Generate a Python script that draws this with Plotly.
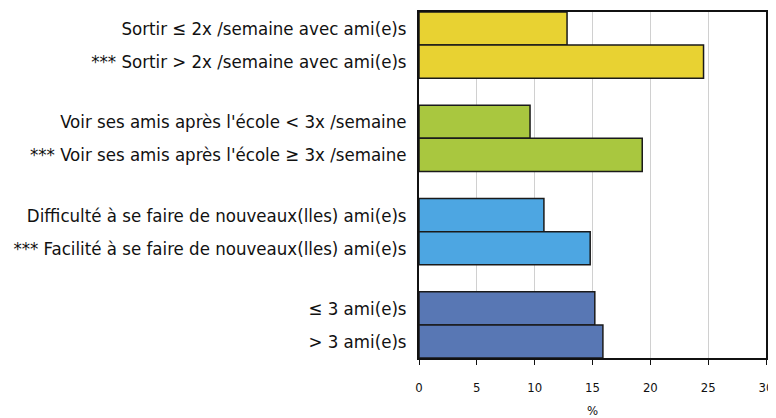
import plotly.graph_objects as go

labels = [
    "Sortir ≤ 2x /semaine avec ami(e)s",
    "*** Sortir > 2x /semaine avec ami(e)s",
    "Voir ses amis après l'école < 3x /semaine",
    "*** Voir ses amis après l'école ≥ 3x /semaine",
    "Difficulté à se faire de nouveaux(lles) ami(e)s",
    "*** Facilité à se faire de nouveaux(lles) ami(e)s",
    "≤ 3 ami(e)s",
    "> 3 ami(e)s",
]
values = [12.8, 24.6, 9.6, 19.3, 10.8, 14.8, 15.2, 15.9]
groups = [0, 0, 1, 1, 2, 2, 3, 3]
group_colors = ["#E8D232", "#A9C73F", "#4DA6E2", "#5877B4"]
x_ticks = [0, 5, 10, 15, 20, 25, 30]

GAP = 0.82
ypos = []
for i, g in enumerate(groups):
    ypos.append(g * (2 + GAP) + (i - 2 * g))
colors = [group_colors[g] for g in groups]

FONT = "DejaVu Sans Condensed, Liberation Sans Narrow, sans-serif"

fig = go.Figure()
fig.add_trace(go.Bar(
    x=values, y=ypos, orientation="h", width=1,
    marker=dict(color=colors, line=dict(color="#1a1a1a", width=1.5)),
    hoverinfo="x",
))

# page body has an 8px default margin, so the figure is sized to compensate
fig.update_layout(
    width=768, height=410,
    margin=dict(l=411, r=10, t=4, b=60),
    paper_bgcolor="white", plot_bgcolor="white",
    showlegend=False,
    font=dict(family=FONT, color="#111111"),
)
fig.update_xaxes(
    automargin=False,
    range=[0, 30], tickvals=x_ticks, ticktext=[str(t) for t in x_ticks],
    showgrid=True, gridcolor="#d0d0d0", gridwidth=1,
    showline=True, linecolor="#111111", linewidth=1.5, mirror=True,
    ticks="outside", ticklen=5, tickcolor="#111111",
    tickfont=dict(size=13, family=FONT),
    ticklabelstandoff=12, ticklabeloverflow="allow",
    zeroline=False,
    title=dict(text="%", font=dict(size=13, family=FONT), standoff=20),
)
fig.update_yaxes(
    automargin=False,
    range=[max(ypos) + 0.5, -0.5],
    tickvals=ypos, ticktext=labels,
    showgrid=False, zeroline=False,
    showline=True, linecolor="#111111", linewidth=1.5, mirror=True,
    ticks="", ticklabelstandoff=7,
    tickfont=dict(size=18.5, family=FONT),
)

fig.write_html("out.html")
